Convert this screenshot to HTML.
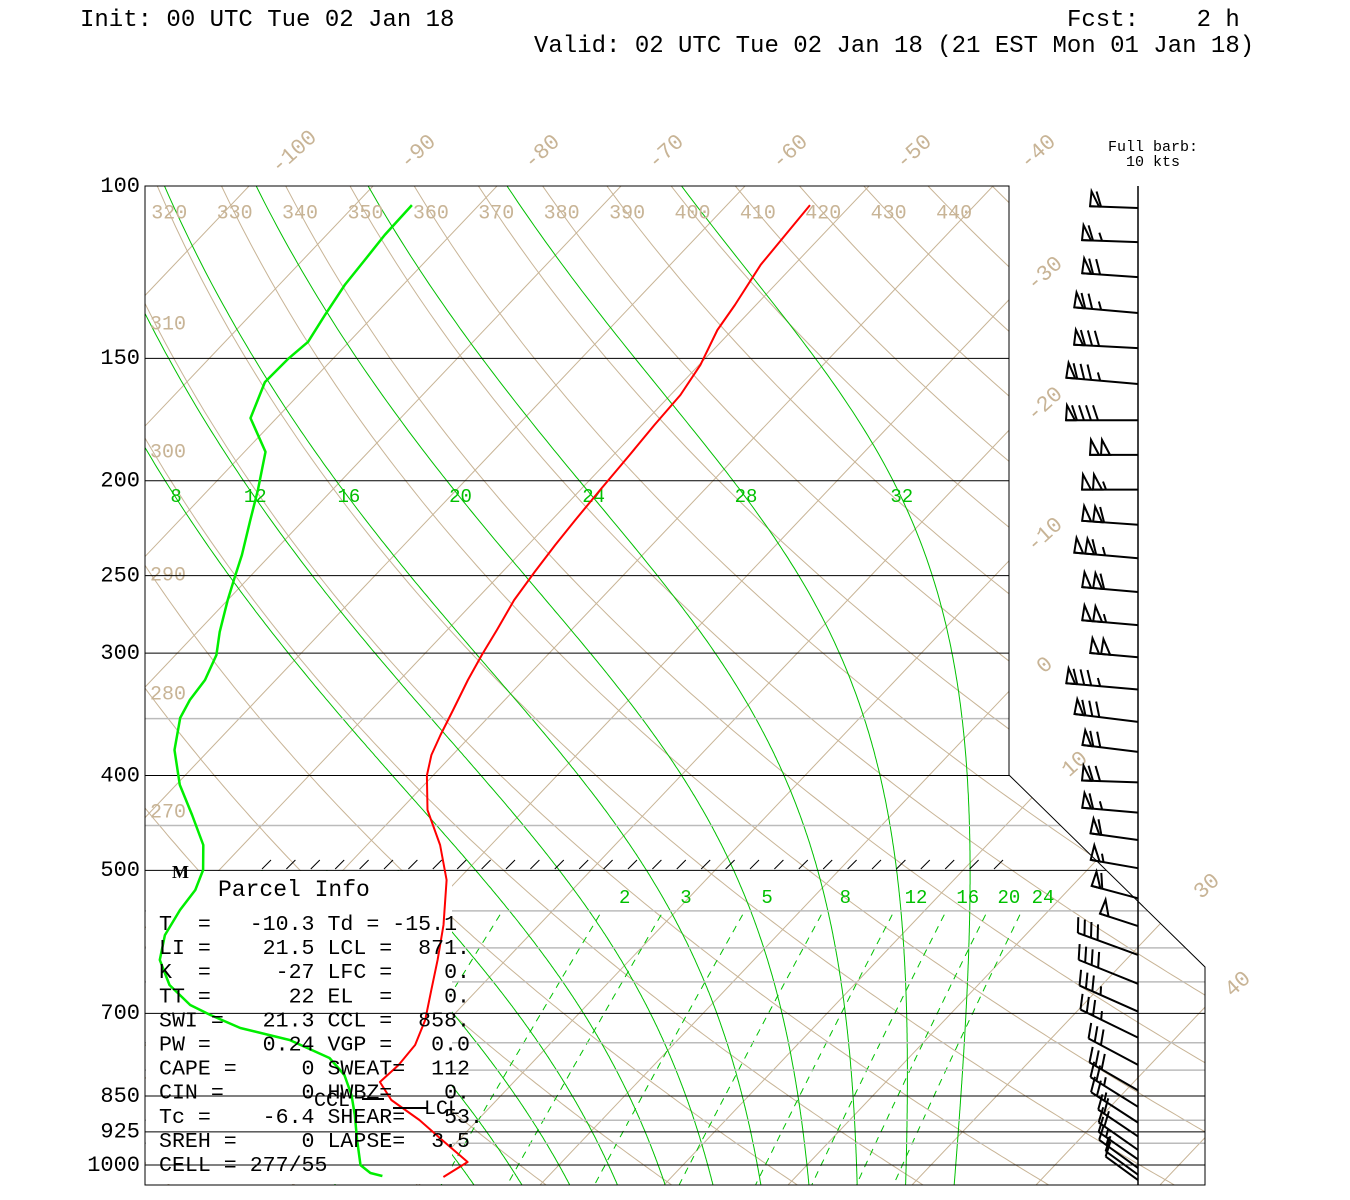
<!DOCTYPE html>
<html><head><meta charset="utf-8"><title>Skew-T</title>
<style>
html,body{margin:0;padding:0;background:#fff;}
svg{display:block;font-family:"Liberation Mono",monospace;}
</style></head>
<body>
<svg id="chart" width="1350" height="1200" viewBox="0 0 1350 1200" xmlns="http://www.w3.org/2000/svg">
<rect x="0" y="0" width="1350" height="1200" fill="#fff"/>
<defs><clipPath id="plotclip"><polygon points="145,186 1009,186 1009,775 1205,967 1205,1185 145,1185"/></clipPath></defs>
<text x="80" y="26" font-size="24">Init: 00 UTC Tue 02 Jan 18</text>
<text x="1067" y="26" font-size="24" xml:space="preserve">Fcst:    2 h</text>
<text x="534" y="52" font-size="24">Valid: 02 UTC Tue 02 Jan 18 (21 EST Mon 01 Jan 18)</text>
<text x="1153" y="151" font-size="15" text-anchor="middle">Full barb:</text>
<text x="1153" y="166" font-size="15" text-anchor="middle">10 kts</text>
<g id="grid" clip-path="url(#plotclip)"></g>
<g id="gridlabels"></g>
<rect x="146" y="871" width="306" height="313" fill="#fff"/>
<g id="hlines" clip-path="url(#plotclip)"></g>
<g id="profiles"></g>
<g id="barbs"></g>
<g id="texts" font-size="21.6">
<text x="218" y="896" font-size="23">Parcel Info</text>
</g>
<polygon points="145,186 1009,186 1009,775 1205,967 1205,1185 145,1185" fill="none" stroke="#000" stroke-width="1"/>
<text x="172" y="878" font-size="18" font-weight="bold" font-family="Liberation Serif, serif">M</text>
<line x1="362" y1="1099" x2="384" y2="1099" stroke="#000" stroke-width="2"/>
<text x="314" y="1106" font-size="20">CCL</text>
<line x1="393" y1="1108" x2="428" y2="1108" stroke="#000" stroke-width="2"/>
<text x="424" y="1114" font-size="20">LCL</text>
</svg>
<script>
// ---- data ----
const tempP=[104.6,112.2,120.4,132.3,140.3,152.3,163.5,175.4,188.3,204.4,219.4,232.6,247.9,264.8,284.1,301.3,319.6,342.9,363.7,381.2,400,433.9,471.1,511.5,568.6,617.3,662.6,710.9,754,790.3,822.6,858.2,899.5,947.3,992.9,1028.5];
const tempC=[-53.3,-53.0,-52.7,-51.7,-51.2,-49.9,-49.2,-49.0,-48.7,-48.4,-48.1,-47.8,-47.4,-46.9,-46.0,-45.3,-44.5,-43.4,-42.5,-41.7,-40.5,-37.8,-34.1,-30.9,-27.7,-25.5,-23.7,-21.9,-20.8,-20.6,-20.8,-18.5,-14.7,-11.0,-7.6,-8.4];
const dewP=[104.6,112.2,119.0,126.2,135.4,144.3,150,158.6,172.6,186.9,204.4,219.4,238.2,250.8,264.8,285.4,301.3,319.6,334.9,349.4,376.8,409.0,439.0,471.1,499.6,523.7,548.9,582.2,617.3,654.8,686.3,702.7,724.4,745.2,777.5,809.1,848.1,888.9,942.8,1000,1018.8,1026];
const dewC=[-85.4,-85.3,-85.0,-84.7,-84.0,-83.3,-83.6,-83.7,-82.1,-78.3,-76.0,-74.3,-72.3,-71.2,-70.0,-68.2,-66.7,-65.7,-65.4,-64.8,-62.8,-59.7,-56.4,-53.2,-51.3,-50.4,-50.1,-49.4,-47.9,-45.2,-42.0,-39.6,-36.2,-31.3,-26.7,-24.2,-22.1,-20.3,-18.2,-16.0,-14.6,-13.4];
const windP=[105.3,114.1,123.9,134.8,146.4,159.3,173.5,188.2,204.2,221.8,240,259.8,280.9,302.9,326.8,352.6,378.4,406.6,436.6,465.6,497.5,534,570,610,653,697,741,790,839,872,905,935,965,987,1007,1023,1036];
const windDir=[272,272,274,275,273,275,270,270,270,274,275,275,275,275,275,277,277,272,275,278,280,285,288,290,292,294,296,298,300,302,303,304,305,305,306,306,306];
const windSpd=[60,65,70,75,80,85,90,100,105,110,115,110,105,100,85,80,70,70,65,60,55,60,50,40,40,35,35,30,30,25,25,20,20,15,15,10,10];
const isoTemps=[-120,-110,-100,-90,-80,-70,-60,-50,-40,-30,-20,-10,0,10,20,30,40,50];
const isoLabelTop=[-100,-90,-80,-70,-60,-50,-40];
const isoLabelSide=[-30,-20,-10,0,10,30,40];
const thetas=[240,250,260,270,280,290,300,310,320,330,340,350,360,370,380,390,400,410,420,430,440,450,460];
const thetaLabelTop=[320,330,340,350,360,370,380,390,400,410,420,430,440];
const thetaLabelLeft=[270,280,290,300,310];
const moistTw=[-8,-4,0,4,8,12,16,20,24,28,32];
const moistLabels=[8,12,16,20,24,28,32];
const mixW=[0.4,1,2,3,5,8,12,16,20,24];
const mixLabels=[2,3,5,8,12,16,20,24];
const blackP=[150,200,250,300,400,500,700,850,925,1000];
const grayP=[350,450,550,600,650,750,800,900,950];
const pLabels=[100,150,200,250,300,400,500,700,850,925,1000];

// ---- axes ----
const NS="http://www.w3.org/2000/svg";
function yP(p){return 186+425.2*Math.log(p/100);}
function pY(y){return 100*Math.exp((y-186)/425.2);}
function xT(T,y){return 559+12.4*T+0.95*(1165-y);}
const TAN="#c8b496", GRN="#00c000";
function mk(tag,attrs,parent){const e=document.createElementNS(NS,tag);for(const k in attrs)e.setAttribute(k,attrs[k]);parent.appendChild(e);return e;}
const grid=document.getElementById('grid'), gl=document.getElementById('gridlabels');
const hl=document.getElementById('hlines'), prof=document.getElementById('profiles'), barbs=document.getElementById('barbs');

// isotherms
isoTemps.forEach(T=>{
  const e=mk('line',{x1:xT(T,150),y1:150,x2:xT(T,1190),y2:1190,stroke:TAN,'stroke-width':1},grid);
  
  
});
isoLabelTop.forEach(T=>{
  const x=xT(T,150)+11, y=152;
  const t=mk('text',{x:x,y:y,'font-size':22,fill:TAN,'text-anchor':'middle','dominant-baseline':'middle',transform:`rotate(-42 ${x} ${y})`},gl);
  t.textContent=String(T);
  
  
});
const sideX={'-30':1045,'-20':1045,'-10':1045,'0':1045,'10':1075,'30':1207,'40':1238};
isoLabelSide.forEach(T=>{
  const x=sideX[String(T)];
  const y=1165-(x-559-12.4*T)/0.95+12;
  const t=mk('text',{x:x,y:y,'font-size':22,fill:TAN,'text-anchor':'middle','dominant-baseline':'middle',transform:`rotate(-42 ${x} ${y})`},gl);
  t.textContent=String(T);
  
  
});

// dry adiabats
function dryT(theta,p){return theta*Math.pow(p/1000,0.2857)-273.15;}
thetas.forEach(th=>{
  let d='';
  for(let p=100;p<=1060;p+=5){const y=yP(p);const x=xT(dryT(th,p),y);d+=(d?'L':'M')+x.toFixed(1)+','+y.toFixed(1);}
  const e=mk('path',{d:d,fill:'none',stroke:TAN,'stroke-width':1},grid);
  
  
});
thetaLabelTop.forEach(th=>{
  const y=213, x=xT(dryT(th,pY(y)),y);
  const t=mk('text',{x:x,y:y,'font-size':20,fill:TAN,'text-anchor':'middle','dominant-baseline':'middle'},gl);
  t.textContent=String(th);
  
  
});
thetaLabelLeft.forEach(th=>{
  let best=0,bd=1e9;
  for(let y=186;y<=900;y+=1){const dd=Math.abs(xT(dryT(th,pY(y)),y)-168);if(dd<bd){bd=dd;best=y;}}
  const t=mk('text',{x:168,y:best-24,'font-size':20,fill:TAN,'text-anchor':'middle','dominant-baseline':'middle'},gl);
  t.textContent=String(th);
  
  
});

// moist adiabats
function dTdp(p,T){const Tk=T+273.15;const es=6.112*Math.exp(17.67*T/(T+243.5));const rs=0.622*es/(p-es);
  return (287*Tk+2.5e6*rs)/(1004+2.5e6*2.5e6*rs*0.622/(287*Tk*Tk))/p;}
function moist(T0){
  const up=[],dn=[];let p=1000,T=T0;up.push([p,T]);
  while(p>100){const h=-2;const k1=dTdp(p,T);const k2=dTdp(p+h,T+h*k1);T+=h*(k1+k2)/2;p+=h;up.push([p,T]);}
  p=1000;T=T0;
  while(p<1060){const h=2;const k1=dTdp(p,T);const k2=dTdp(p+h,T+h*k1);T+=h*(k1+k2)/2;p+=h;dn.push([p,T]);}
  return dn.reverse().concat(up);
}
const moistCurves={};
moistTw.forEach(tw=>{
  const pts=moist(tw);moistCurves[tw]=pts;
  const pMin = tw<8 ? 500 : 100;
  let d='';pts.forEach(([p,T])=>{if(p<pMin)return;const y=yP(p);d+=(d?'L':'M')+xT(T,y).toFixed(1)+','+y.toFixed(1);});
  const e=mk('path',{d:d,fill:'none',stroke:GRN,'stroke-width':1},grid);
  
  
});
moistLabels.forEach(tw=>{
  const y=497,pt=pY(y);const pts=moistCurves[tw];
  let T=pts[0][1],bd=1e9;pts.forEach(([p,t])=>{const dd=Math.abs(p-pt);if(dd<bd){bd=dd;T=t;}});
  const t=mk('text',{x:xT(T,y),y:y,'font-size':19,fill:GRN,'text-anchor':'middle','dominant-baseline':'middle'},gl);
  t.textContent=String(tw);
  
  
});

// mixing ratio lines
function mixT(w,p){const e=w*p/(622+w);const l=Math.log(e/6.112);return 243.5*l/(17.67-l);}
mixW.forEach(w=>{
  let d='';for(let p=555;p<=1060;p+=5){const y=yP(p);d+=(d?'L':'M')+xT(mixT(w,p),y).toFixed(1)+','+y.toFixed(1);}
  const e=mk('path',{d:d,fill:'none',stroke:GRN,'stroke-width':1,'stroke-dasharray':'7,6'},grid);
  
  
});
mixLabels.forEach(w=>{
  const y=898;const x=xT(mixT(w,pY(y)),y)+15;
  const t=mk('text',{x:x,y:y,'font-size':19,fill:GRN,'text-anchor':'middle','dominant-baseline':'middle'},gl);
  t.textContent=String(w);
  
  
});

// gray pressure lines (under box)
grayP.forEach(p=>{
  const e=mk('line',{x1:145,y1:yP(p),x2:1210,y2:yP(p),stroke:'#bbbbbb','stroke-width':1.5},grid);
  
  
});
// black pressure lines
blackP.forEach(p=>{
  const e=mk('line',{x1:145,y1:yP(p),x2:1210,y2:yP(p),stroke:'#000','stroke-width':1},hl);
  
  
});
pLabels.forEach(p=>{
  const t=mk('text',{x:140,y:yP(p),'font-size':22,'text-anchor':'end','dominant-baseline':'middle'},gl);
  t.textContent=String(p);
  
  
});
// hatch at 500
for(let x=262;x<1000;x+=24.4){
  const e=mk('line',{x1:x,y1:869,x2:x+9,y2:860,stroke:'#000','stroke-width':1},gl);
  
  
}

// profiles
function prPath(P,T){let d='';P.forEach((p,i)=>{const y=yP(p);d+=(d?'L':'M')+xT(T[i],y).toFixed(1)+','+y.toFixed(1);});return d;}
const tl=mk('path',{d:prPath(tempP,tempC),fill:'none',stroke:'#ff0000','stroke-width':2,'stroke-linejoin':'round'},prof);


const dl=mk('path',{d:prPath(dewP,dewC),fill:'none',stroke:'#00ee00','stroke-width':2.5,'stroke-linejoin':'round'},prof);



// wind barbs
const staff=mk('line',{x1:1138,y1:186,x2:1138,y2:1185,stroke:'#000','stroke-width':1.5},barbs);


windP.forEach((p,i)=>{
  const spd=windSpd[i];
  const nEl=Math.floor(spd/50)+Math.floor((spd%50)/10)+((spd%10)>=5?1:0);
  const y0=yP(p),x0=1138,d=windDir[i]*Math.PI/180,L=32+8*nEl;
  const ux=Math.sin(d),uy=-Math.cos(d);
  const nx=-uy,ny=ux;
  const tx=x0+L*ux,ty=y0+L*uy;
  const g=mk('g',{},barbs);
  
  
  mk('line',{x1:x0,y1:y0,x2:tx,y2:ty,stroke:'#000','stroke-width':2},g);
  let s=spd,pos=0;
  while(s>=50){
    const ax=tx-pos*ux,ay=ty-pos*uy;
    const bx=ax-9*ux,by=ay-9*uy;
    const cx=ax+15*nx-1*ux,cy=ay+15*ny-1*uy;
    mk('polygon',{points:`${ax},${ay} ${bx},${by} ${cx},${cy}`,fill:'none',stroke:'#000','stroke-width':2},g);
    pos+=11;s-=50;
  }
  while(s>=10){
    const ax=tx-pos*ux,ay=ty-pos*uy;
    mk('line',{x1:ax,y1:ay,x2:ax+15*nx+5*ux,y2:ay+15*ny+5*uy,stroke:'#000','stroke-width':2},g);
    pos+=7;s-=10;
  }
  if(s>=5){
    const ax=tx-pos*ux-2*ux,ay=ty-pos*uy-2*uy;
    mk('line',{x1:ax,y1:ay,x2:ax+8*nx+3*ux,y2:ay+8*ny+3*uy,stroke:'#000','stroke-width':2},g);
  }
});

// parcel info text
const rows=["T  =   -10.3 Td = -15.1","LI =    21.5 LCL =  871.","K  =     -27 LFC =    0.","TT =      22 EL  =    0.","SWI =   21.3 CCL =  858.","PW =    0.24 VGP =   0.0","CAPE =     0 SWEAT=  112","CIN =      0 HWBZ=    0.","Tc =    -6.4 SHEAR=   53.","SREH =     0 LAPSE=  3.5","CELL = 277/55"];
const texts=document.getElementById('texts');
rows.forEach((r,i)=>{
  const t=mk('text',{x:159,y:930+i*24.1,'font-size':21.6},texts);
  t.setAttributeNS("http://www.w3.org/XML/1998/namespace","xml:space","preserve");
  t.style.whiteSpace='pre';
  t.textContent=r;
  
  
});
</script>
</body></html>
